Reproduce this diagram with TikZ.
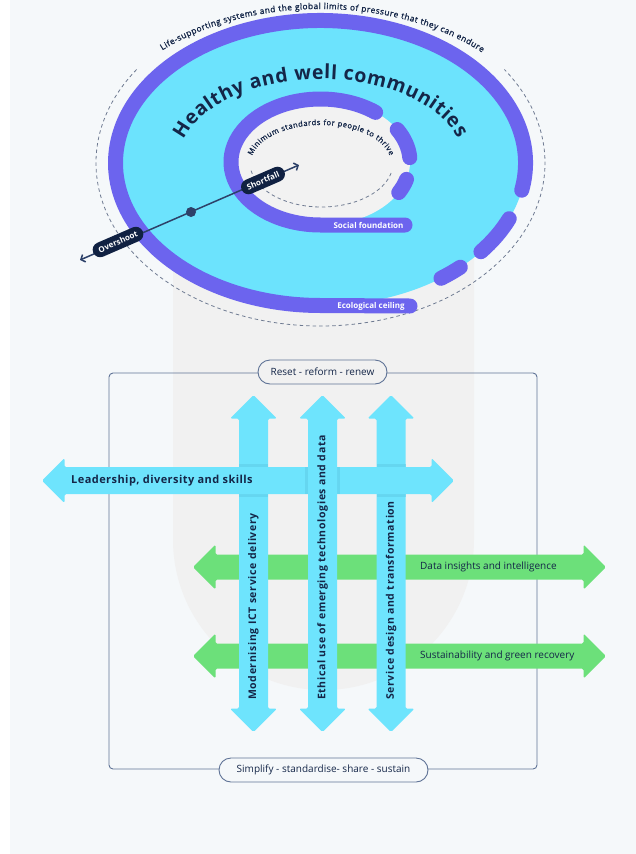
\documentclass[tikz,border=0pt]{standalone}
\usepackage{fontspec}
\setmainfont{Open Sans}
\newfontfamily\semib[FakeBold=1.2]{Open Sans}
\usetikzlibrary{decorations.text,arrows.meta}
\definecolor{bgc}{RGB}{245,248,250}
\definecolor{pillg}{RGB}{241,241,241}
\definecolor{innerg}{RGB}{242,242,242}
\definecolor{cyanc}{RGB}{108,227,253}
\definecolor{cyanA}{RGB}{110,228,253}
\definecolor{cyanS}{RGB}{96,205,232}
\definecolor{greenA}{RGB}{108,224,122}
\definecolor{purp}{RGB}{108,100,238}
\definecolor{navy}{RGB}{20,38,72}
\definecolor{navyd}{RGB}{16,33,66}
\definecolor{linec}{RGB}{45,65,105}
\definecolor{dashc}{RGB}{110,122,145}
\definecolor{boxc}{RGB}{95,115,150}
\tikzset{
 ring/.style={draw=purp,line width=15pt,line cap=round,line join=round},
 dashline/.style={draw=dashc,line width=0.8pt,dash pattern=on 3.5pt off 3pt},
 pilltext/.style={text=white,font=\fontsize{8}{8}\selectfont\bfseries,inner sep=0pt},
 darkpill/.style={fill=navyd,text=white,rounded corners=7.5pt,minimum height=15pt,inner xsep=6pt,inner ysep=0pt,font=\fontsize{8}{8}\selectfont\bfseries},
 lab/.style={draw=boxc,line width=0.9pt,rounded corners=12pt,minimum height=24pt,text=navy,font=\fontsize{10}{10}\selectfont,inner xsep=0pt},
 cyanarrow/.style={fill=cyanA,rounded corners=1.5pt},
 greenarrow/.style={fill=greenA,rounded corners=1.5pt},
 shade/.style={fill=cyanS,opacity=0.6},
 vlabel/.style={rotate=90,anchor=west,text=navy,font=\fontsize{10.5}{10.5}\selectfont\bfseries\addfontfeature{LetterSpace=6},inner sep=0pt},
 hlabel/.style={anchor=west,text=navy,inner sep=0pt},
}
\newcommand\myVArrow[1]{\fill[cyanarrow] (#1,-395) -- (#1+23.5,-418.5) -- (#1+14.5,-418.5) -- (#1+14.5,-708.5) -- (#1+23.5,-708.5) -- (#1,-732) -- (#1-23.5,-708.5) -- (#1-14.5,-708.5) -- (#1-14.5,-418.5) -- (#1-23.5,-418.5) -- cycle;}
\newcommand\myHArrow[6]{\fill[#6] (#1,#3) -- (#1+#5,#3+#5) -- (#1+#5,#3+#4) -- (#2-#5,#3+#4) -- (#2-#5,#3+#5) -- (#2,#3) -- (#2-#5,#3-#5) -- (#2-#5,#3-#4) -- (#1+#5,#3-#4) -- (#1+#5,#3-#5) -- cycle;}
\begin{document}
\begin{tikzpicture}[x=1pt,y=1pt]
\useasboundingbox (0,0) rectangle (636,-854);
\fill[white] (0,0) rectangle (636,-854);
\fill[bgc] (10,0) rectangle (636,-854);
% grey pill behind
\fill[pillg] (173,-160) -- (173,-539.5) arc[start angle=180,end angle=360,radius=150.5] -- (474,-160) -- cycle;
% outer dashed ellipse
\draw[dashline] (320.5,-163) ++(145:224.5 and 163) arc[start angle=145,end angle=395,x radius=224.5,y radius=163];
% cyan doughnut
\fill[cyanc] (320.5,-163) ellipse[x radius=205,y radius=142.5];
\draw[ring] (320.5,-163) ++(-11:205 and 142.5) arc[start angle=-11,end angle=270,x radius=205,y radius=142.5] -- (410,-306);
\draw[ring] (320.5,-163) ++(-23:205 and 142.5) arc[start angle=-23,end angle=-38.5,x radius=205,y radius=142.5];
\draw[ring] (320.5,-163) ++(-47:205 and 142.5) arc[start angle=-47,end angle=-54,x radius=205,y radius=142.5];
\node[pilltext] (eco) at (371,-306.5) {Ecological ceiling};
% inner
\fill[innerg] (320.5,-162) ellipse[x radius=89.5,y radius=63];
\draw[ring] (320.5,-162) ++(52:89.5 and 63) arc[start angle=52,end angle=270,x radius=89.5,y radius=63] -- (405,-225);
\draw[ring] (320.5,-162) ++(31:89.5 and 63) arc[start angle=31,end angle=4,x radius=89.5,y radius=63];
\draw[ring] (320.5,-162) ++(-16:89.5 and 63) arc[start angle=-16,end angle=-29,x radius=89.5,y radius=63];
\node[pilltext] (soc) at (368.5,-225) {Social foundation};
\draw[dashline] (321.5,-163) ++(190:71.5 and 44) arc[start angle=190,end angle=350,x radius=71.5,y radius=44];
% curved texts
\path[decorate,decoration={text along path,text align={fit to path},text color=navy,
  text={|\fontsize{19.5}{20}\selectfont\bfseries|Healthy and well communities}}]
  (321,-163) ++(164:143 and 84) arc[start angle=164,end angle=17,x radius=143,y radius=84];
\path[decorate,decoration={text along path,text align={fit to path},text color=navy,
  text={|\fontsize{8.3}{9}\semib|Life-supporting systems and the global limits of pressure that they can endure}}]
  (320.5,-163) ++(133:232 and 154) arc[start angle=133,end angle=46,x radius=232,y radius=154];
\path[decorate,decoration={text along path,text align={fit to path},text color=navy,
  text={|\fontsize{7.5}{8}\semib|Minimum standards for people to thrive}}]
  (321,-163) ++(169:70 and 38) arc[start angle=169,end angle=11,x radius=70,y radius=38];
% overshoot / shortfall
\coordinate (osE) at (80,-260);
\coordinate (sfE) at (299,-165);
\draw[linec,line width=1.5pt,{Straight Barb[length=3.5pt,width=8pt]}-{Straight Barb[length=3.5pt,width=8pt]}] (osE) -- (sfE);
\node[circle,fill=linec,minimum size=10pt,inner sep=0pt] (dot) at (191,-212) {};
\node[darkpill,rotate=23.45] (over) at (118,-242) {Overshoot};
\node[darkpill,rotate=23.45] (short) at (263,-180.5) {Shortfall};
% frame
\draw[boxc,line width=0.9pt,rounded corners=4pt] (109,-373) rectangle (537,-769);
\node[lab,fill=pillg,minimum width=129pt] (reset) at (322.5,-372) {Reset - reform - renew};
\node[lab,fill=bgc,minimum width=209pt] (simp) at (323.5,-770) {Simplify - standardise- share - sustain};
% arrows
\myHArrow{193}{606}{-567}{12.5}{22.5}{greenarrow}
\myHArrow{193}{606}{-656}{12.5}{22.5}{greenarrow}
\myVArrow{253.5}
\myVArrow{391}
\fill[shade] (239,-464) rectangle (268,-467);
\fill[shade] (239,-494) rectangle (268,-497);
\fill[shade] (376.5,-464) rectangle (405.5,-467);
\fill[shade] (376.5,-494) rectangle (405.5,-497);
\myHArrow{42}{454}{-480.5}{13.5}{22.5}{cyanarrow}
\fill[shade] (305,-467) rectangle (308,-494);
\fill[shade] (337,-467) rectangle (340,-494);
\myVArrow{322.5}
\node[hlabel,font=\fontsize{11}{11}\selectfont\bfseries\addfontfeature{LetterSpace=4}] (lead) at (71,-481) {Leadership, diversity and skills};
\node[hlabel,font=\fontsize{10}{10}\selectfont] (data) at (420,-567) {Data insights and intelligence};
\node[hlabel,font=\fontsize{10}{10}\selectfont] (sust) at (420,-656) {Sustainability and green recovery};
\node[vlabel] (mod) at (253.5,-700) {Modernising ICT service delivery};
\node[vlabel] (eth) at (322.5,-700) {Ethical use of emerging technologies and data};
\node[vlabel] (serv) at (391,-700) {Service design and transformation};
\end{tikzpicture}
\end{document}
